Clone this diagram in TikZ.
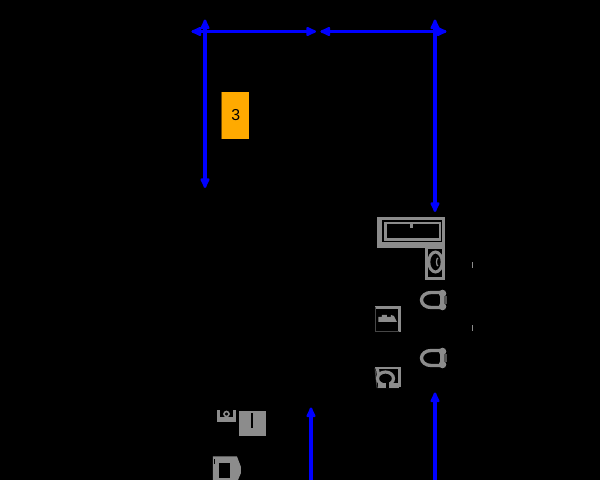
\documentclass[tikz,border=0pt]{standalone}
\usepackage{fontspec}
\setmainfont{Liberation Sans}
\usetikzlibrary{arrows.meta,positioning,calc}
\definecolor{dimblue}{RGB}{0,0,255}
\definecolor{roomorange}{RGB}{255,170,0}
\definecolor{fixgray}{RGB}{140,140,140}
\tikzset{
    dimline/.style={draw=dimblue, line width=2.1pt},
    dimtip/.style={{Latex[length=7.5pt,width=6.5pt,round]}-},
    dimboth/.style={{Latex[length=7.5pt,width=6.5pt,round]}-{Latex[length=7.5pt,width=6.5pt,round]}},
    fixline/.style={draw=fixgray, line width=1.4pt},
    fixthin/.style={draw=fixgray!50!black, line width=0.5pt},
    fixfill/.style={fill=fixgray},
    roomtag/.style={fill=roomorange, minimum width=27.5*0.02cm, minimum height=47*0.02cm, inner sep=0pt, font=\fontsize{9}{10}\selectfont}
}

\begin{document}
\begin{tikzpicture}[x=0.02cm, y=-0.02cm]
    \fill[black] (0,0) rectangle (600,480);
    \useasboundingbox (0,0) rectangle (600,480);

    % corner points of the dimension lines
    \coordinate (leftend) at (191.5,31.5);
    \coordinate (midleft) at (316,31.5);
    \coordinate (midright) at (320.5,31.5);
    \coordinate (rightend) at (446.5,31.5);
    \coordinate (leftup) at (205,19.5);
    \coordinate (leftdown) at (205,188);
    \coordinate (rightup) at (435,19.5);
    \coordinate (rightdown) at (435,212);
    \coordinate (lowlefttip) at (311,407.5);
    \coordinate (lowleftend) at (311,480);
    \coordinate (lowrighttip) at (435,392.5);
    \coordinate (lowrightend) at (435,480);

    \draw[dimline, dimboth] (leftend) -- (midleft);
    \draw[dimline, dimboth] (midright) -- (rightend);
    \draw[dimline, dimboth] (leftup) -- (leftdown);
    \draw[dimline, dimboth] (rightup) -- (rightdown);
    \draw[dimline, dimtip] (lowlefttip) -- (lowleftend);
    \draw[dimline, dimtip] (lowrighttip) -- (lowrightend);

    % room tag
    \node[roomtag] (room3) at (235.7,115.5) {3};
    \fill[roomorange!45!black] (221,92) rectangle (222.3,139);

    % bath
    \fill[fixfill] (377,217) rectangle (445,248);
    \fill[black] (382,220) rectangle (442.5,242);
    \draw[fixline] (385.5,223) rectangle (440,239.5);
    \fill[fixfill] (410,224) rectangle (413.5,228);

    % basin by the bath
    \fill[black] (425,248) rectangle (445,280);
    \draw[fixline] (426.3,248) rectangle (443.7,278.7);
    \draw[draw=fixgray, line width=1.7pt] (435.5,262) ellipse (6.7 and 10);
    \draw[draw=fixgray, line width=0.7pt] (438,258) arc (-90:-270:1.5 and 4);

    % toilets
    \foreach \ty in {300,358} {
        \draw[draw=fixgray, line width=1.9pt] (440,\ty-7.5) -- (431,\ty-7.5) arc (-90:-270:9.5 and 7.5) -- (440,\ty+7.5);
        \fill[fixfill] (442.5,\ty-6.5) circle (3.8);
        \fill[fixfill] (442.5,\ty+6.5) circle (3.8);
        \fill[fixfill] (440,\ty-6) rectangle (444,\ty+6);
        \fill[fixgray!60!black] (444,\ty-4) rectangle (447,\ty+4);
    }

    % washing machine
    \draw[fixline] (375,307.5) -- (399.5,307.5) -- (399.5,332);
    \draw[fixthin] (375.3,307.5) -- (375.3,331.7) -- (399,331.7);
    \fill[fixfill] (378.5,317) -- (382,317) -- (382,315) -- (387,315) -- (387,317) -- (391,317) -- (391,315) -- (394,316) -- (397,322) -- (378.5,322) -- cycle;

    % second washer
    \draw[fixline] (375,368.2) -- (399.5,368.2) -- (399.5,387.5);
    \draw[fixthin] (375,368.2) -- (377,387.7) -- (399,387.7);
    \fill[fixfill] (376,369) -- (379,369) -- (380,374) -- (377,376) -- cycle;
    \draw[draw=fixgray, line width=1.8pt] (385.5,378.5) ellipse (8 and 6.5);
    \fill[fixfill] (378,383) rectangle (386,388);
    \fill[fixfill] (389,383) rectangle (399,388);
    \fill[black] (386,382) rectangle (389,388);

    % kitchen units
    \fill[fixfill] (217.5,410.5) rectangle (236,422);
    \fill[black] (220.5,410.5) rectangle (233,417.5);
    \draw[draw=fixgray, line width=0.9pt] (226.5,414) circle (2.5);
    \fill[fixfill] (239,411) rectangle (266,436);
    \fill[black] (251.2,413.5) rectangle (252.8,428);
    \fill[fixfill] (213,456.5) -- (237,456.5) -- (241,467) -- (241,473) -- (238,480) -- (213,480) -- cycle;
    \fill[black] (219,463) rectangle (230,478);
    \fill[black] (214,459) rectangle (214.8,464);

    % ticks
    \fill[fixfill] (472.5,262) rectangle (473.5,268);
    \fill[fixfill] (472.5,325) rectangle (473.5,331);
\end{tikzpicture}
\end{document}
